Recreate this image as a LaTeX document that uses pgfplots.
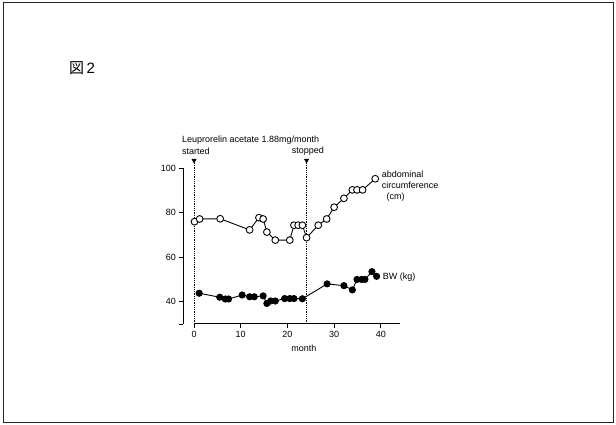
\documentclass[border=0pt]{standalone}
\usepackage{fontspec}
\setmainfont{Liberation Sans}
\newfontfamily\cjk{Noto Sans CJK JP}
\usepackage{pgfplots}
\pgfplotsset{compat=1.18}

\begin{document}
\begin{tikzpicture}
\path[use as bounding box] (0pt,0pt) rectangle (616pt,-425pt);
\fill[white] (0pt,0pt) rectangle (616pt,-425pt);
\draw[line width=1pt, black!85] (3pt,-3pt) rectangle (613pt,-422pt);
\node[anchor=west, font=\fontsize{15}{18}\selectfont, inner sep=0pt] at (69pt,-68pt) {{\cjk 図}\,2};

\begin{axis}[
  at={(183.3pt,-323.9pt)}, anchor=south west,
  scale only axis, width=216.2pt, height=155.6pt,
  xmin=-2.3, xmax=44, ymin=30, ymax=100,
  clip=false,
  axis line style={draw=none},
  xtick={0,10,20,30,40},
  ytick={30,40,60,80,100}, yticklabels={,40,60,80,100},
  xtick pos=lower, ytick pos=left,
  tick align=outside, major tick length=4pt,
  tick style={black, line width=0.8pt},
  font=\fontsize{9}{11}\selectfont,
  ticklabel style={font=\fontsize{9}{11}\selectfont},
  /pgf/number format/assume math mode=true,
]
% axis lines, offset from each other
\draw[line width=1pt] (axis cs:-2.3,30) -- (axis cs:-2.3,100);
\draw[line width=1pt] (axis cs:0,30) -- (axis cs:44,30);

% treatment start / stop
\addplot[black, densely dotted, line width=0.8pt] coordinates {(0,30) (0,102.5)};
\addplot[black, densely dotted, line width=0.8pt] coordinates {(24.1,30) (24.1,102.5)};
\addplot[only marks, mark=triangle*, mark size=2.6pt, mark options={rotate=180, fill=black, black}]
  coordinates {(0,103.6) (24.1,103.6)};

% abdominal circumference (cm)
\addplot[black, line width=0.9pt, mark=*, mark size=3.4pt,
  mark options={fill=white, line width=0.9pt}] coordinates {
  (0.1,76.0) (1.2,77.2) (5.6,77.3) (11.9,72.3) (13.9,77.8) (14.8,77.2)
  (15.6,71.3) (17.4,67.7) (20.5,67.7) (21.4,74.4) (22.3,74.4) (23.2,74.4)
  (24.1,68.8) (26.6,74.4) (28.4,77.2) (30.0,82.5) (32.1,86.5) (33.9,90.3)
  (34.9,90.3) (36.1,90.3) (38.8,95.3)
};

% BW (kg)
\addplot[black, line width=0.9pt, mark=*, mark size=3.1pt,
  mark options={fill=black}] coordinates {
  (1.1,43.8) (5.5,42.0) (6.7,41.2) (7.4,41.2) (10.3,43.0) (11.9,42.2)
  (12.9,42.2) (14.8,42.6) (15.6,39.2) (16.4,40.3) (17.4,40.3) (19.4,41.4)
  (20.5,41.4) (21.4,41.4) (23.2,41.3) (28.5,48.0) (32.1,47.2) (33.9,45.3)
  (34.9,50.0) (35.9,50.0) (36.6,50.0) (38.1,53.5) (39.1,51.4)
};

\node[anchor=west, inner sep=0pt] at (axis cs:-2.6,112.7) {Leuprorelin acetate 1.88mg/month};
\node[anchor=west, inner sep=0pt] at (axis cs:-2.6,107.5) {started};
\node[inner sep=0pt] at (axis cs:24.4,107.5) {stopped};

\node[anchor=west, inner sep=0pt] at (axis cs:40.2,97.3) {abdominal};
\node[anchor=west, inner sep=0pt] at (axis cs:40.2,92.2) {circumference};
\node[anchor=west, inner sep=0pt] at (axis cs:41.2,87.0) {(cm)};
\node[anchor=west, inner sep=0pt] at (axis cs:40.4,51.0) {BW (kg)};

\node[inner sep=0pt] at (axis cs:23.5,19.2) {month};
\end{axis}
\end{tikzpicture}
\end{document}
